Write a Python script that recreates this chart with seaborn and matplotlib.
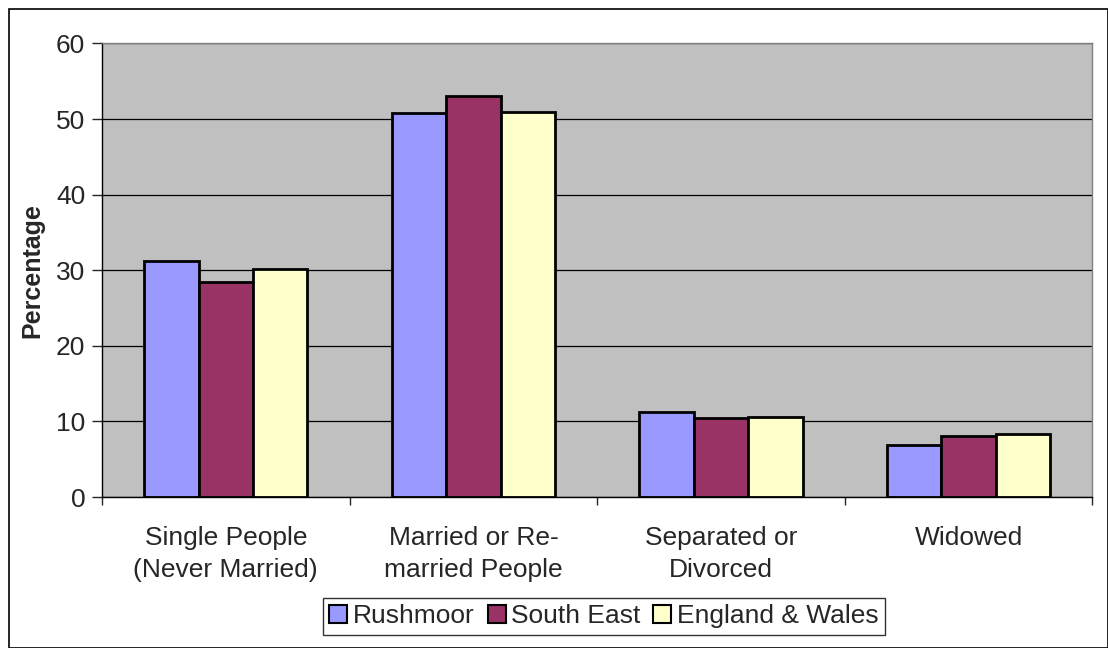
import numpy as np
import pandas as pd
import seaborn as sns
import matplotlib.pyplot as plt
from matplotlib.patches import Rectangle, Patch

categories = ['Single People\n(Never Married)', 'Married or Re-\nmarried People',
              'Separated or\nDivorced', 'Widowed']
areas = ['Rushmoor', 'South East', 'England & Wales']
rushmoor = [31.2, 50.8, 11.2, 6.9]
south_east = [28.4, 53.0, 10.5, 8.1]
england_wales = [30.1, 50.9, 10.6, 8.4]
colors = ['#9999FF', '#993366', '#FFFFCC']

df = pd.DataFrame({
    'category': categories * 3,
    'area': [a for a in areas for _ in categories],
    'value': rushmoor + south_east + england_wales,
})

sns.set_style('white')
plt.rcParams['font.family'] = ['Liberation Sans', 'DejaVu Sans']

fig = plt.figure(figsize=(11.08, 6.48), dpi=100)
ax = fig.add_axes([0.092, 0.233, 0.894, 0.700])
ax.set_facecolor('#C0C0C0')

sns.barplot(data=df, x='category', y='value', hue='area', order=categories,
            hue_order=areas, palette=colors, width=0.66, gap=0,
            edgecolor='black', linewidth=2, saturation=1, legend=False, ax=ax)

ax.set_ylim(0, 60)
ax.set_xlim(-0.5, 3.5)
ax.set_yticks(range(0, 61, 10))
ax.yaxis.grid(True, color='black', linewidth=0.9)
ax.set_axisbelow(True)
ax.tick_params(axis='y', labelsize=19, direction='out', length=7, width=1, left=True, pad=5)
ax.tick_params(axis='x', labelsize=19, length=0, pad=21)
for lbl in ax.get_xticklabels():
    lbl.set_linespacing(1.42)
ax.set_xticks(np.arange(-0.5, 4, 1), minor=True)
ax.tick_params(axis='x', which='minor', direction='out', length=6, width=1, bottom=True)
ax.set_xlabel('')
ax.set_ylabel('Percentage', fontsize=18, fontweight='bold', labelpad=8)

for s in ['top', 'right']:
    ax.spines[s].set_color('#808080')
    ax.spines[s].set_linewidth(1)
for s in ['left', 'bottom']:
    ax.spines[s].set_color('black')
    ax.spines[s].set_linewidth(1)

handles = [Patch(facecolor=c, edgecolor='black', linewidth=1.5) for c in colors]
leg = fig.legend(handles, areas, loc='center', bbox_to_anchor=(0.545, 0.049), ncol=3,
                 fontsize=19, frameon=True, fancybox=False, edgecolor='black',
                 handlelength=0.68, handleheight=0.68, handletextpad=0.2,
                 columnspacing=0.5, borderpad=0.25)
leg.get_frame().set_linewidth(1)

fig.patches.append(Rectangle((9 / 1108, 0), 1 - 9 / 1108, 1 - 9 / 648,
                             transform=fig.transFigure, fill=False,
                             edgecolor='black', linewidth=1.2))

fig.savefig('out.png', dpi=100)
